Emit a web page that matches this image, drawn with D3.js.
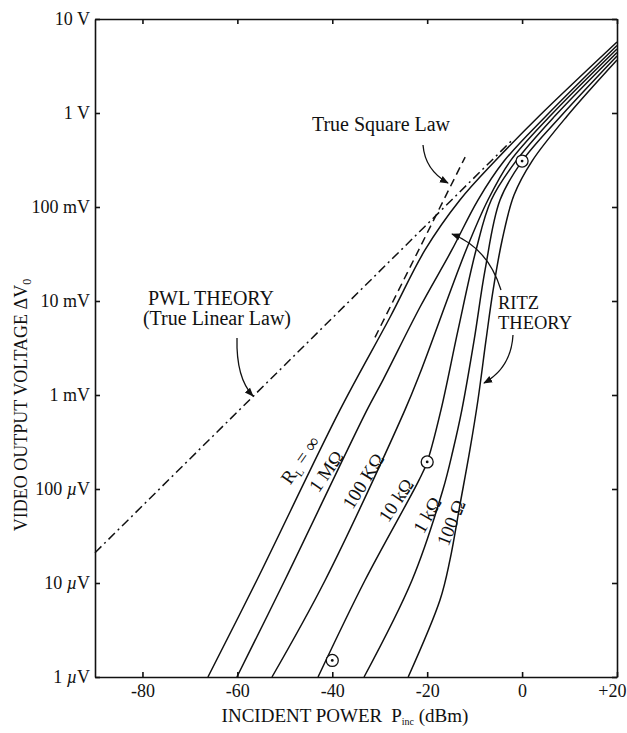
<!DOCTYPE html>
<html>
<head>
<meta charset="utf-8">
<script src="https://cdn.jsdelivr.net/npm/d3@7"></script>
<style>
body { margin: 0; background: #fff; }
svg { display: block; font-family: "Liberation Serif", "Times New Roman", serif; }
.axis text { font-size: 18px; fill: #111; font-family: "Liberation Serif", serif; }
.axis path, .axis line { stroke: #111; stroke-width: 1.6; }
.curve { fill: none; stroke: #111; stroke-width: 1.5; }
.note { font-size: 18px; fill: #111; }
.big { font-size: 20px; }
.arrow { fill: none; stroke: #111; stroke-width: 1.3; }
</style>
</head>
<body>
<div id="chart-area"></div>
<script>

// tick values and labels
var xTicks = [-80, -60, -40, -20, 0, 20];
var xTickLabels = ["-80", "-60", "-40", "-20", "0", "+20"];
var yTicks = [1e-6, 1e-5, 1e-4, 1e-3, 1e-2, 1e-1, 1, 10];
var yTickNums = ["1", "10", "100", "1", "10", "100", "1", "10"];
var yTickUnits = ["µV", "µV", "µV", "mV", "mV", "mV", "V", "V"];

// Ritz theory curves, [incident power dBm, output volts]
var curveRinf = [[-66.2,1e-6],[-55.9,1.07e-5],[-38.4,6.9e-4],[-27.8,6.76e-3],[-20.45,0.0349],[-13.1,0.1186],[-5.7,0.308],[3.6,0.929],[20,5.69]];
var curve1M   = [[-60.1,1e-6],[-50.0,1.07e-5],[-32.7,6.9e-4],[-29.3,1.45e-3],[-21.5,8.63e-3],[-14.8,0.0349],[-9.3,0.1186],[-3.8,0.308],[5.05,0.929],[20,5.22]];
var curve100k = [[-52.7,1e-6],[-41.5,1.07e-5],[-24.7,6.9e-4],[-21.5,1.71e-3],[-11.8,0.0349],[-7.2,0.1186],[-2.5,0.308],[5.9,0.929],[20,4.8]];
var curve10k  = [[-43.0,1e-6],[-33.1,1.07e-5],[-21.7,1.25e-4],[-20.0,1.94e-4],[-17.1,6.9e-4],[-13.5,4.9e-3],[-9.7,0.0349],[-6.5,0.1186],[-1.3,0.308],[6.9,0.929],[20,4.41]];
var curve1k   = [[-33.3,1e-6],[-23.2,1.07e-5],[-16.7,9.75e-5],[-14.55,2.6e-4],[-12.7,6.9e-4],[-10.1,3.85e-3],[-7.8,0.0214],[-4.65,0.1186],[0.0,0.308],[8.2,0.929],[20,4.04]];
var curve100  = [[-24.0,1e-6],[-17.3,6.59e-6],[-15.2,1.76e-5],[-13.1,6.76e-5],[-11.0,2.6e-4],[-9.3,8.85e-4],[-7.6,3.85e-3],[-6.1,0.0131],[-4.2,0.0446],[-1.7,0.134],[2.1,0.308],[9.5,0.929],[20,3.66]];

// PWL theory (true linear law) and true square law
var pwlLine = [[-90, 2.1e-5], [-2, 0.52]];
var squareLine = [[-31, 4.1e-3], [-12, 0.34]];

// measured points (circled)
var measured = [[0, 0.308], [-20, 1.94e-4], [-40, 1.5e-6]];

var margin = {left:95, right:10, top:19, bottom:56};
var width = 627 - margin.left - margin.right,
	height = 733 - margin.top - margin.bottom;

var svg = d3.select("#chart-area")
	.append("svg")
		.attr("width", 627)
		.attr("height", 733);

svg.append("rect").attr("width", 627).attr("height", 733).attr("fill", "#fff");

var g = svg.append("g")
	.attr("transform", "translate(" + margin.left + "," + margin.top + ")");

var x = d3.scaleLinear().domain([-90, 20]).range([0, width]);
var y = d3.scaleLog().domain([1e-6, 10]).range([height, 0]);

// axes, ticks point inward on all four sides
var xAxis = g.append("g")
	.attr("class", "axis")
	.attr("transform", "translate(0," + height + ")")
	.call(d3.axisBottom(x).tickValues(xTicks)
		.tickFormat(function(d, i){ return xTickLabels[i]; })
		.tickSizeInner(-5).tickSizeOuter(0).tickPadding(7));

// keep "+20" inside the page
xAxis.selectAll(".tick text").filter(function(d){ return d === 20; })
	.attr("text-anchor", "end").attr("dx", "9");

g.append("g")
	.attr("class", "axis")
	.call(d3.axisTop(x).tickValues(xTicks).tickFormat("")
		.tickSizeInner(-5).tickSizeOuter(0));

g.append("g")
	.attr("class", "axis")
	.attr("transform", "translate(" + width + ",0)")
	.call(d3.axisRight(y).tickValues(yTicks).tickFormat("")
		.tickSizeInner(-5).tickSizeOuter(0));

var yAxis = g.append("g")
	.attr("class", "axis")
	.call(d3.axisLeft(y).tickValues(yTicks)
		.tickFormat(function(d, i){ return yTickNums[i] + " " + yTickUnits[i]; })
		.tickSizeInner(-5).tickSizeOuter(0).tickPadding(5));

// italic mu in the microvolt labels
yAxis.selectAll(".tick text").each(function(d, i){
	var unit = yTickUnits[i];
	if (unit.charAt(0) !== "µ") return;
	var t = d3.select(this).text(yTickNums[i] + " ");
	t.append("tspan").attr("font-style", "italic").text("µ");
	t.append("tspan").text("V");
});

// curves
var line = d3.line()
	.x(function(d){ return x(d[0]); })
	.y(function(d){ return y(d[1]); })
	.curve(d3.curveCatmullRom.alpha(0.5));

var curves = [curveRinf, curve1M, curve100k, curve10k, curve1k, curve100];

g.selectAll(".curve")
	.data(curves)
	.enter()
	.append("path")
		.attr("class", "curve")
		.attr("d", line);

g.append("path")
	.datum(pwlLine)
	.attr("class", "curve")
	.attr("stroke-width", 1.4)
	.attr("stroke-dasharray", "9,4,2,4")
	.attr("d", line);

g.append("path")
	.datum(squareLine)
	.attr("class", "curve")
	.attr("stroke-width", 1.4)
	.attr("stroke-dasharray", "8,5")
	.attr("d", line);

// circled measurement points
var pts = g.selectAll(".pt")
	.data(measured)
	.enter()
	.append("g")
		.attr("class", "pt")
		.attr("transform", function(d){ return "translate(" + x(d[0]) + "," + y(d[1]) + ")"; });
pts.append("circle").attr("r", 6).attr("fill", "#fff").attr("stroke", "#111").attr("stroke-width", 1.3);
pts.append("circle").attr("r", 1.4).attr("fill", "#111");

// curve labels along the lines (power, volts, angle)
var labelSpots = [
	{p:-46.8, v:2.04e-4, a:-55, text:"R", sub:"L", rest:" = ∞"},
	{p:-41.3, v:1.55e-4, a:-55, text:"1 MΩ"},
	{p:-33.5, v:1.22e-4, a:-58, text:"100 KΩ"},
	{p:-26.6, v:7.6e-5,  a:-56, text:"10 kΩ"},
	{p:-20.0, v:5.3e-5,  a:-60, text:"1 kΩ"},
	{p:-15.0, v:4.4e-5,  a:-68, text:"100 Ω"}
];

labelSpots.forEach(function(s){
	var t = g.append("text")
		.attr("class", "note")
		.style("font-size", "19px")
		.attr("text-anchor", "middle")
		.attr("dy", "0.35em")
		.attr("transform", "translate(" + x(s.p) + "," + y(s.v) + ") rotate(" + s.a + ")");
	t.append("tspan").text(s.text);
	if (s.sub) {
		t.append("tspan").style("font-size", "11px").attr("dy", "4").text(s.sub);
		t.append("tspan").attr("dy", "-4").text(s.rest);
	}
});

// annotations
svg.append("defs").append("marker")
	.attr("id", "head")
	.attr("viewBox", "0 0 10 10")
	.attr("refX", 9).attr("refY", 5)
	.attr("markerWidth", 9).attr("markerHeight", 9)
	.attr("markerUnits", "userSpaceOnUse")
	.attr("orient", "auto")
	.append("path")
		.attr("d", "M0,1 L10,5 L0,9 Z")
		.attr("fill", "#111");

var notes = svg.append("g");

notes.append("text").attr("class", "note big").attr("x", 381).attr("y", 131)
	.attr("text-anchor", "middle").text("True Square Law");
notes.append("path").attr("class", "arrow").attr("marker-end", "url(#head)")
	.attr("d", "M423,145 Q425,170 448,183");

notes.append("text").attr("class", "note big").attr("x", 211).attr("y", 305)
	.attr("text-anchor", "middle").text("PWL THEORY");
notes.append("text").attr("class", "note big").attr("x", 217).attr("y", 325)
	.attr("text-anchor", "middle").text("(True Linear Law)");
notes.append("path").attr("class", "arrow").attr("marker-end", "url(#head)")
	.attr("d", "M237,338 Q236,378 253,396");

notes.append("text").attr("class", "note").style("font-size", "18.5px").attr("x", 498).attr("y", 309).text("RITZ");
notes.append("text").attr("class", "note").style("font-size", "18.5px").attr("x", 498).attr("y", 329).text("THEORY");
notes.append("path").attr("class", "arrow").attr("marker-end", "url(#head)")
	.attr("d", "M501,290 Q488,248 452,234");
notes.append("path").attr("class", "arrow").attr("marker-end", "url(#head)")
	.attr("d", "M513,335 Q511,368 484,383");

// axis titles
var yTitle = svg.append("text")
	.attr("class", "note")
	.attr("text-anchor", "middle")
	.attr("transform", "translate(27,405) rotate(-90)");
yTitle.append("tspan").text("VIDEO OUTPUT VOLTAGE ΔV");
yTitle.append("tspan").style("font-size", "12px").attr("dy", "4").text("0");

var xTitle = svg.append("text")
	.attr("class", "note")
	.style("font-size", "19px")
	.attr("text-anchor", "middle")
	.attr("x", 345).attr("y", 722);
xTitle.append("tspan").text("INCIDENT POWER");
xTitle.append("tspan").attr("dx", "9").text("P");
xTitle.append("tspan").style("font-size", "10px").attr("dy", "3").text("inc");
xTitle.append("tspan").attr("dy", "-3").text(" (dBm)");

</script>
</body>
</html>
